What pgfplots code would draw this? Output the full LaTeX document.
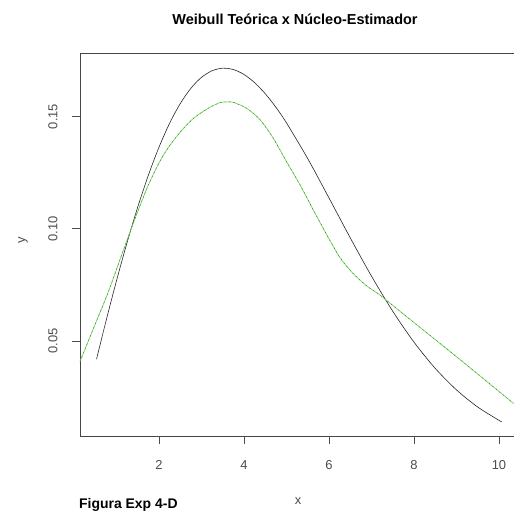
\documentclass[border=0pt]{standalone}
\usepackage{pgfplots}
\pgfplotsset{compat=1.18}
\usepackage{fontspec}
\setmainfont{Liberation Sans}
\definecolor{kgreen}{RGB}{95,225,95}
\definecolor{kred}{RGB}{140,70,30}
\definecolor{axgray}{RGB}{70,70,70}
\begin{document}
\begin{tikzpicture}
\path[use as bounding box] (0bp,0bp) rectangle (514bp,513bp);
\begin{axis}[
  name=ax,
  at={(80bp,77bp)}, anchor=south west,
  scale only axis, width=434bp, height=383bp,
  xmin=0.141, xmax=10.353, ymin=0.00766, ymax=0.1783,
  axis lines*=left,
  axis line style={-, axgray, line width=0.7pt},
  /pgf/number format/assume math mode=true,
  xtick={2,4,6,8,10}, ytick={0.05,0.10,0.15},
  yticklabels={0.05,0.10,0.15},
  tick align=outside,
  major tick length=8bp,
  every tick/.style={draw=axgray, line width=0.8pt},
  xticklabel style={font=\fontsize{13}{13}\selectfont, text=black!70, yshift=-13bp},
  yticklabel style={font=\fontsize{13}{13}\selectfont, text=black!70, xshift=-11bp, rotate=90, anchor=south},
  clip=false,
]
\addplot[black!85, line width=0.6pt, smooth] coordinates {
(0.53,0.0419)(0.75,0.05867)(1,0.07686)(1.25,0.09394)(1.5,0.10967)(1.75,0.12386)
(2,0.13634)(2.25,0.14701)(2.5,0.15576)(2.75,0.16258)(3,0.16745)(3.25,0.17040)
(3.5,0.17153)(3.75,0.17093)(4,0.16873)(4.25,0.16507)(4.5,0.16015)(4.75,0.15413)
(5,0.14715)(5.5,0.13122)(6,0.11372)(6.5,0.09594)(7,0.07888)(7.5,0.06324)
(8,0.04947)(8.5,0.03779)(9,0.02819)(9.5,0.02056)(10,0.01465)(10.06,0.01405)
};
\pgfplotstableread{
x y
0.14 0.0408
0.49 0.0571
0.81 0.0720
1.12 0.0883
1.44 0.1047
1.75 0.1195
2.06 0.1314
2.38 0.1403
2.77 0.1485
3.16 0.1537
3.44 0.1562
3.60 0.1565
3.75 0.1563
4.06 0.1537
4.38 0.1485
4.69 0.1403
5.00 0.1299
5.32 0.1195
5.63 0.1084
5.95 0.0972
6.26 0.0871
6.57 0.0800
6.89 0.0745
7.16 0.0710
7.36 0.0680
7.98 0.0585
8.77 0.0465
9.55 0.0345
10.34 0.0222
}\kde
\addplot[kgreen, line width=0.7pt, smooth, tension=0.5] table {\kde};
\addplot[kred, line width=0.35pt, dash pattern=on 1.5bp off 3bp, smooth, tension=0.5] table {\kde};
\draw[axgray, line width=0.7pt] (rel axis cs:0,1) -- (rel axis cs:1.01,1);
\end{axis}
\draw[black!70, line width=0.8pt] (159bp,77bp) -- (159bp,69bp);
\draw[black!70, line width=0.8pt] (244bp,77bp) -- (244bp,69bp);
\draw[black!70, line width=0.8pt] (329bp,77bp) -- (329bp,69bp);
\draw[black!70, line width=0.8pt] (414bp,77bp) -- (414bp,69bp);
\draw[black!70, line width=0.8pt] (499bp,77bp) -- (499bp,69bp);
\draw[black!70, line width=0.8pt] (80bp,172bp) -- (72bp,172bp);
\draw[black!70, line width=0.8pt] (80bp,284.3bp) -- (72bp,284.3bp);
\draw[black!70, line width=0.8pt] (80bp,396.5bp) -- (72bp,396.5bp);
\node[font=\bfseries\fontsize{14.5}{14.5}\selectfont] at (295bp,494bp) {Weibull Teórica x Núcleo-Estimador};
\node[font=\bfseries\fontsize{14}{14}\selectfont, anchor=west, inner sep=0pt] at (79bp,8bp) {Figura Exp 4-D};
\node[font=\fontsize{13}{13}\selectfont, text=black!70] at (298bp,12bp) {x};
\node[font=\fontsize{13}{13}\selectfont, text=black!70, rotate=90] at (23bp,273bp) {y};
\end{tikzpicture}
\end{document}
